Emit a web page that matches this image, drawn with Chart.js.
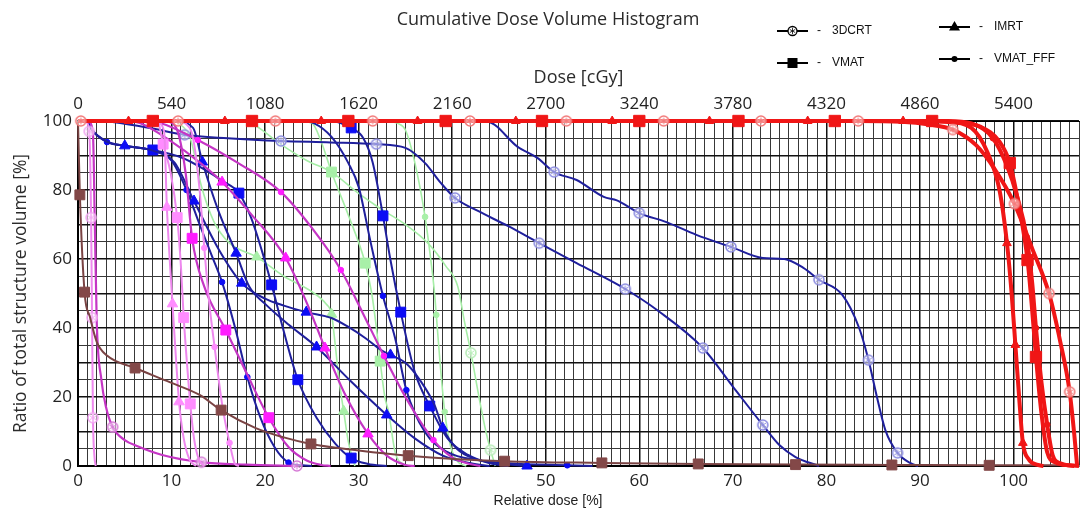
<!DOCTYPE html>
<html>
<head>
<meta charset="utf-8">
<script src="https://cdn.jsdelivr.net/npm/chart.js@4.4.1/dist/chart.umd.min.js"></script>
<style>
html,body{margin:0;padding:0;background:#fff;}
#wrap{width:1086px;height:513px;}
</style>
</head>
<body>
<div id="wrap"><canvas id="c" width="1086" height="513"></canvas></div>
<script>
// ---------- DATA (x = relative dose %, y = volume %) ----------
const techniques = ['3DCRT', 'IMRT', 'VMAT', 'VMAT_FFF'];
const xTickLabels = [0,10,20,30,40,50,60,70,80,90,100];
const topTickLabels = [0,540,1080,1620,2160,2700,3240,3780,4320,4860,5400];
const yTickLabels = [0,20,40,60,80,100];

// PTV (red)
const ptv3dcrt = [[0,100],[0.3,100],[10.7,100],[21.1,100],[31.5,100],[41.9,100],[52.2,100],[62.6,100],[73,100],[83.4,100],[88,99.8],[91,99],[93.5,97.5],[96,93],[98,86],[100.1,76],[102,63],[103.8,50],[105,36],[106,21.5],[106.5,9],[106.8,0]];
const ptv3dcrtMk = [1,2,3,4,5,6,7,8,9,12,15,17,19];
const ptvImrt = [[0,100],[5.4,100],[15.7,100],[26,100],[36.3,100],[46.8,100],[57.1,100],[67.5,100],[78,100],[88.2,100],[93,99.7],[95.5,98],[97.2,91],[98.5,80],[99.3,64.6],[99.8,50],[100.2,35.1],[100.6,20],[101,6.7],[101.6,2],[102.6,0.3],[103.2,0]];
const ptvImrtMk = [1,2,3,4,5,6,7,8,9,14,16,18];
const ptvVmat = [[0,100],[8,100],[18.6,100],[28.9,100],[39.3,100],[49.6,100],[60,100],[70.6,100],[80.9,100],[91.3,100],[94,99.6],[96.5,98.3],[98.5,94],[99.6,87.8],[100.6,75],[101.5,59.7],[102,45],[102.4,31.6],[103,15],[103.6,4],[104.5,1],[106,0.2],[107,0]];
const ptvVmatMk = [1,2,3,4,5,6,7,8,9,13,15,17];
const ptvFff = [[0,100],[93,100],[95.5,99.3],[97.8,95],[99.3,87],[100.4,78],[101.4,66.4],[102,53],[102.4,40],[103,24],[103.6,12],[104.2,3],[105,0.8],[106.5,0]];
const ptvFffMk = [3,6,8,10];

// Brown structure
const brownVmat = [[0,100],[0.2,78.6],[0.7,50.4],[1.3,43],[2,36],[3.1,32],[6.1,28.4],[9.8,24.3],[13,20.6],[15.3,16.2],[19,11],[22,8.3],[24.9,6.4],[30,4.5],[35.3,3],[45.6,1.4],[56,0.9],[66.3,0.6],[76.7,0.4],[87,0.3],[97.4,0.2],[107,0.2]];
const brownVmatMk = [1,2,6,9,12,14,15,16,17,18,19,20];

// Violet structure
const vio3dcrt = [[0.8,100],[1.2,97],[1.4,72],[1.5,43],[1.6,14],[1.75,3],[1.9,0]];
const vio3dcrtMk = [1,2,3,4];
const vioImrt = [[8.3,100],[9.2,97],[9.5,75],[9.8,60],[10.1,47],[10.5,30],[10.8,18.6],[11.3,8],[11.9,2],[12.6,0]];
const vioImrtMk = [2,4,6];
const vioVmat = [[8.6,100],[9.1,93.3],[9.9,85],[10.6,72],[11,58],[11.3,43],[11.7,28],[12,18],[12.4,8],[12.9,2],[13.5,0]];
const vioVmatMk = [1,3,5,7];
const vioFff = [[11.3,100],[12.3,95],[13,80],[13.5,63.2],[14,48],[14.6,34.5],[15.4,18],[16.2,6.7],[16.8,0.5],[17.2,0]];
const vioFffMk = [3,5,7];

// Magenta structure
const mag3dcrt = [[1.2,100],[1.6,96],[1.8,70],[2,42],[2.5,25],[3,17],[3.7,11.3],[5,7.5],[6.3,5.8],[9,3.2],[13.2,1.1],[18,0.4],[23.4,0]];
const mag3dcrtMk = [6,10,12];
const magImrt = [[5,100],[6.6,99.4],[10,94],[13,88],[15.4,82.3],[18.5,73],[22.2,60.3],[24.5,47],[26.4,34.2],[28.5,21],[31,9.3],[33,3],[35,0.3],[36,0]];
const magImrtMk = [4,6,8,10];
const magVmat = [[9.5,100],[10.5,98],[11.5,85],[12.2,66],[13.5,52],[15.8,39.4],[18,27],[20.4,14],[22.5,5.5],[24.5,1.5],[26,0.3],[27,0]];
const magVmatMk = [3,5,7];
const magFff = [[7,100],[8.7,99.5],[12.8,94.5],[17,88],[21.7,79.4],[25,69],[28.1,56.8],[30.5,44],[32.7,31.9],[35,20],[38,7.5],[40,2.5],[42,0.5],[43,0]];
const magFffMk = [2,4,6,8,10];

// Navy structure 1
const navA3dcrt = [[3,100],[4.5,99.4],[8,97.8],[11.4,96],[16,95],[21.7,94.2],[27,93.8],[31.9,93.3],[35,92.2],[37.1,87.8],[38.8,82],[40.3,77.7],[42.7,74],[46,69.5],[49.3,64.6],[53.3,58.8],[58.5,51.3],[62,45],[66.8,34.2],[70,23],[73.2,11.9],[75,6],[76.7,2.6],[79.2,0]];
const navA3dcrtMk = [3,5,7,11,14,16,18,20];
const navAImrt = [[1,100],[1.5,97.4],[3.1,94],[5,92.8],[8,91.4],[10.3,88],[12.4,76.8],[15,63],[17.5,53],[20,48.5],[22,46.5],[24.4,44.6],[27.1,42.9],[28.9,40.3],[30.7,37.1],[32.4,33.6],[33.4,32.2],[35,29.9],[36.7,24.3],[38.1,17.7],[39,11],[40.5,5],[42.5,2],[45,0.8],[48,0]];
const navAImrtMk = [3,6,8,11,16,20,24];
const navAVmat = [[1,100],[1.5,97.4],[3.1,94],[5,92.8],[8,91.6],[11,89.5],[13.5,86],[15.5,82.5],[17.2,79.1],[18.5,72],[19.7,62],[20.7,52.5],[22,39],[23.5,25],[25.5,14],[27.5,6.5],[29.2,2.3],[31,0.6],[33,0]];
const navAVmatMk = [4,8,11,13,16];
const navAFff = [[1,100],[1.5,97.4],[3.1,93.9],[5,92.8],[8,91.4],[10,88.5],[11.6,80],[13,70],[14.3,61],[15.4,53.3],[16.8,40],[18.1,25.8],[19.5,14],[21,5.5],[22.5,1],[24,0.2],[25,0]];
const navAFffMk = [2,6,9,11,14];

// Navy structure 2
const navB3dcrt = [[42,100],[43.8,99.8],[47,92.5],[49.1,89.3],[50.9,85.2],[53.3,82.9],[56.2,78],[57.6,77],[60,73.3],[62.9,70.7],[66.1,67],[69.8,63.5],[73.2,60.3],[75.5,60],[77.5,57.5],[79.2,54],[81.7,49.6],[83.5,40],[84.5,30.7],[85.4,20],[86.3,10.4],[87.6,3.8],[89,0.8],[89.8,0]];
const navB3dcrtMk = [4,8,11,15,18,21];
const navBImrt = [[10.5,100],[12.3,98],[13.3,88.1],[15,74],[16.9,61.7],[18.3,52],[20,47],[22.5,41],[25.5,34.5],[29,25],[33,14.8],[36,8],[39,3],[42,0.8],[44,0]];
const navBImrtMk = [2,4,8,10];
const navBVmat = [[27.5,100],[29.2,98],[30.5,95],[31.5,88],[32.6,72.5],[33.4,59.7],[34.5,44.6],[36,27.2],[37.6,17.4],[39.5,8],[41.7,3.2],[44,0.8],[46,0]];
const navBVmatMk = [1,4,6,8];
const navBFff = [[24,100],[25.2,99.4],[27.1,95.4],[28.9,87.8],[30,80.9],[31.3,64.6],[32.6,49.3],[33.9,37],[35.1,22],[37.1,9.8],[39.5,4],[42.7,1.7],[46,0.8],[52.3,0.2],[55,0]];
const navBFffMk = [6,8,13];

// Light green structure
const grn3dcrt = [[16,100],[18,99.7],[21.8,93],[24.5,88.5],[27.1,85.2],[30,79],[32.1,75],[35,70],[37.4,64.6],[39.3,58],[40.6,52],[41.3,42],[42,32.8],[43,18],[43.6,10],[44.1,4.6],[44.6,0]];
const grn3dcrtMk = [12,15];
const grnImrt = [[10.5,100],[12,95],[13.2,81],[14.5,71],[16.2,64.6],[19.1,60.6],[22,55],[25,50.5],[26.5,47],[27.1,44],[27.5,35],[27.9,25],[28.4,15.9],[28.9,7],[29.6,0]];
const grnImrtMk = [5,9,12];
const grnVmat = [[23.5,100],[25,99.4],[26,94],[27.1,85.2],[29,72],[30.7,58.8],[31.4,50],[31.9,40],[32.3,30.4],[32.8,20],[33.2,15.7],[33.9,4],[35,0]];
const grnVmatMk = [3,5,8];
const grnFff = [[33.2,100],[34.2,99.3],[35,97.4],[36,88],[37.1,72.2],[37.7,60],[38.1,50.4],[38.3,43.8],[38.7,30],[39.2,15.7],[39.8,6],[40.5,1.5],[41.5,0]];
const grnFffMk = [4,7,9];

// ---------- STYLES ----------
const COL = {
  red:   {line:'#f01616', fill:'#f01616', pale:'#f27a7a', w:4},
  brown: {line:'#7a4343', fill:'#834848', pale:'#a07070', w:2},
  vio:   {line:'#ee88ee', fill:'#ff8cff', pale:'#f2a6f2', w:2},
  mag:   {line:'#c535c5', fill:'#ff1cff', pale:'#d67ad6', w:2.2},
  navy:  {line:'#1f1f9c', fill:'#0c0cf5', pale:'#8c8ce0', w:2},
  grn:   {line:'#a6eea6', fill:'#a8f0a8', pale:'#b8ecb8', w:1.6}
};

function starCircle(color, r){
  const c = document.createElement('canvas');
  const s = 2*r + 4; c.width = s; c.height = s;
  const g = c.getContext('2d');
  g.strokeStyle = color; g.fillStyle = 'rgba(255,255,255,0.55)'; g.lineWidth = 1.6;
  g.beginPath(); g.arc(s/2, s/2, r, 0, Math.PI*2); g.fill(); g.stroke();
  g.lineWidth = 1;
  for (let k = 0; k < 6; k++){
    const a = k*Math.PI/3 + Math.PI/2;
    g.beginPath(); g.moveTo(s/2, s/2); g.lineTo(s/2 + Math.cos(a)*r*0.7, s/2 + Math.sin(a)*r*0.7); g.stroke();
  }
  return c;
}

const series = [
  {d:ptv3dcrt, mk:ptv3dcrtMk, c:'red', t:'3DCRT'},
  {d:ptvImrt, mk:ptvImrtMk, c:'red', t:'IMRT'},
  {d:ptvVmat, mk:ptvVmatMk, c:'red', t:'VMAT'},
  {d:ptvFff, mk:ptvFffMk, c:'red', t:'VMAT_FFF'},
  {d:brownVmat, mk:brownVmatMk, c:'brown', t:'VMAT'},
  {d:vio3dcrt, mk:vio3dcrtMk, c:'vio', t:'3DCRT'},
  {d:vioImrt, mk:vioImrtMk, c:'vio', t:'IMRT'},
  {d:vioVmat, mk:vioVmatMk, c:'vio', t:'VMAT'},
  {d:vioFff, mk:vioFffMk, c:'vio', t:'VMAT_FFF'},
  {d:mag3dcrt, mk:mag3dcrtMk, c:'mag', t:'3DCRT'},
  {d:magImrt, mk:magImrtMk, c:'mag', t:'IMRT'},
  {d:magVmat, mk:magVmatMk, c:'mag', t:'VMAT'},
  {d:magFff, mk:magFffMk, c:'mag', t:'VMAT_FFF'},
  {d:navA3dcrt, mk:navA3dcrtMk, c:'navy', t:'3DCRT'},
  {d:navAImrt, mk:navAImrtMk, c:'navy', t:'IMRT'},
  {d:navAVmat, mk:navAVmatMk, c:'navy', t:'VMAT'},
  {d:navAFff, mk:navAFffMk, c:'navy', t:'VMAT_FFF'},
  {d:navB3dcrt, mk:navB3dcrtMk, c:'navy', t:'3DCRT'},
  {d:navBImrt, mk:navBImrtMk, c:'navy', t:'IMRT'},
  {d:navBVmat, mk:navBVmatMk, c:'navy', t:'VMAT'},
  {d:navBFff, mk:navBFffMk, c:'navy', t:'VMAT_FFF'},
  {d:grn3dcrt, mk:grn3dcrtMk, c:'grn', t:'3DCRT'},
  {d:grnImrt, mk:grnImrtMk, c:'grn', t:'IMRT'},
  {d:grnVmat, mk:grnVmatMk, c:'grn', t:'VMAT'},
  {d:grnFff, mk:grnFffMk, c:'grn', t:'VMAT_FFF'}
];

const starCache = {};
function markerStyle(cname, tech){
  const col = COL[cname];
  if (tech === '3DCRT'){
    if (!starCache[cname]) starCache[cname] = starCircle(col.pale, 5);
    return {style: starCache[cname], r: 5};
  }
  if (tech === 'IMRT') return {style:'triangle', r: cname==='red'?5:6};
  if (tech === 'VMAT') return {style:'rect', r: cname==='red'?8:7};
  return {style:'circle', r: 2.8};
}

const datasets = series.map(s => {
  const col = COL[s.c];
  const m = markerStyle(s.c, s.t);
  return {
    data: s.d.map(p => ({x:p[0], y:p[1]})),
    mk: s.mk,
    showLine: true,
    borderColor: col.line,
    borderWidth: col.w,
    backgroundColor: col.fill,
    pointBackgroundColor: col.fill,
    pointBorderColor: col.fill,
    pointBorderWidth: 1,
    pointStyle: m.style,
    pointRadius: ctx => (ctx.dataset.mk.includes(ctx.dataIndex) ? m.r : 0),
    pointHoverRadius: 0,
    cubicInterpolationMode: 'monotone',
    clip: 10
  };
});

const FONT = '"Open Sans", "Segoe UI", "DejaVu Sans", sans-serif';

const decor = {
  id: 'decor',
  beforeDraw(chart){
    const g = chart.ctx;
    g.save(); g.fillStyle = '#fff'; g.fillRect(0,0,chart.width,chart.height); g.restore();
  },
  afterDraw(chart){
    const g = chart.ctx;
    const a = chart.chartArea;
    g.save();
    g.fillStyle = '#2b2b2b';
    g.textAlign = 'center'; g.textBaseline = 'middle';
    g.font = '18px ' + FONT;
    g.fillText('Cumulative Dose Volume Histogram', 548, 20);
    g.fillText('Dose [cGy]', (a.left + a.right)/2, 78);
    g.font = '14px "Liberation Sans", Arial, sans-serif';
    g.fillStyle = '#222';
    g.fillText('Relative dose [%]', 548, 501);
    g.save();
    g.translate(21, (a.top + a.bottom)/2);
    g.rotate(-Math.PI/2);
    g.font = '17.5px ' + FONT;
    g.fillStyle = '#2b2b2b';
    g.fillText('Ratio of total structure volume [%]', 0, 0);
    g.restore();

    // legend
    const items = [
      {x:777, y:31, t:'3DCRT'},
      {x:939, y:27, t:'IMRT'},
      {x:777, y:63, t:'VMAT'},
      {x:939, y:59, t:'VMAT_FFF'}
    ];
    items.forEach(it => {
      g.strokeStyle = '#000'; g.fillStyle = '#000'; g.lineWidth = 2;
      g.beginPath(); g.moveTo(it.x, it.y); g.lineTo(it.x + 31, it.y); g.stroke();
      const cx = it.x + 15.5, cy = it.y;
      if (it.t === '3DCRT'){
        g.fillStyle = '#fff'; g.lineWidth = 1.3;
        g.beginPath(); g.arc(cx, cy, 4.5, 0, Math.PI*2); g.fill(); g.stroke();
        g.lineWidth = 0.8;
        for (let k = 0; k < 6; k++){ const an = k*Math.PI/3 + Math.PI/2;
          g.beginPath(); g.moveTo(cx, cy); g.lineTo(cx + Math.cos(an)*3.2, cy + Math.sin(an)*3.2); g.stroke(); }
      } else if (it.t === 'IMRT'){
        g.beginPath(); g.moveTo(cx, cy - 6); g.lineTo(cx + 5.5, cy + 3.5); g.lineTo(cx - 5.5, cy + 3.5); g.closePath(); g.fill();
      } else if (it.t === 'VMAT'){
        g.fillRect(cx - 5, cy - 5, 10, 10);
      } else {
        g.beginPath(); g.arc(cx, cy, 3, 0, Math.PI*2); g.fill();
      }
      g.fillStyle = '#111';
      g.textAlign = 'left'; g.textBaseline = 'middle';
      g.font = '12px "Liberation Sans", Arial, sans-serif';
      g.fillText('-', it.x + 40, it.y);
      g.fillText(it.t, it.x + 55, it.y);
    });
    g.restore();
  }
};

new Chart(document.getElementById('c'), {
  type: 'scatter',
  data: { datasets },
  plugins: [decor],
  options: {
    responsive: false,
    animation: false,
    devicePixelRatio: 1,
    layout: { padding: { left: 0, right: 1, top: 0, bottom: 0 } },
    plugins: { legend: { display: false }, tooltip: { enabled: false }, title: { display: false } },
    scales: {
      x: {
        type: 'linear', position: 'bottom', min: 0, max: 107,
        afterFit: s => { s.height = 47; },
        ticks: {
          stepSize: 1, autoSkip: false, maxRotation: 0, padding: 5,
          color: '#222', font: { family: FONT, size: 17 },
          callback: v => (xTickLabels.includes(v) ? String(v) : '')
        },
        grid: {
          drawTicks: false,
          color: ctx => (ctx.tick && ctx.tick.value % 10 === 0 ? '#111' : '#383838'),
          lineWidth: ctx => (ctx.tick && ctx.tick.value % 10 === 0 ? 1.5 : 1)
        },
        border: { display: true, color: '#000', width: 2 }
      },
      xTop: {
        type: 'linear', position: 'top', min: 0, max: 107,
        afterFit: s => { s.height = 121; },
        ticks: {
          stepSize: 10, autoSkip: false, maxRotation: 0, padding: 7,
          color: '#222', font: { family: FONT, size: 17 },
          callback: v => { const i = xTickLabels.indexOf(v); return i >= 0 ? String(topTickLabels[i]) : ''; }
        },
        grid: { display: false, drawTicks: false },
        border: { display: true, color: '#000', width: 1 }
      },
      y: {
        type: 'linear', min: 0, max: 100,
        afterFit: s => { s.width = 78; },
        ticks: {
          stepSize: 5, autoSkip: false, padding: 6,
          color: '#222', font: { family: FONT, size: 17 },
          callback: v => (yTickLabels.includes(v) ? String(v) : '')
        },
        grid: {
          drawTicks: false,
          color: ctx => (ctx.tick && ctx.tick.value % 10 === 0 ? '#111' : '#383838'),
          lineWidth: ctx => (ctx.tick && ctx.tick.value % 10 === 0 ? 1.6 : 1)
        },
        border: { display: true, color: '#000', width: 2 }
      }
    }
  }
});
</script>
</body>
</html>
